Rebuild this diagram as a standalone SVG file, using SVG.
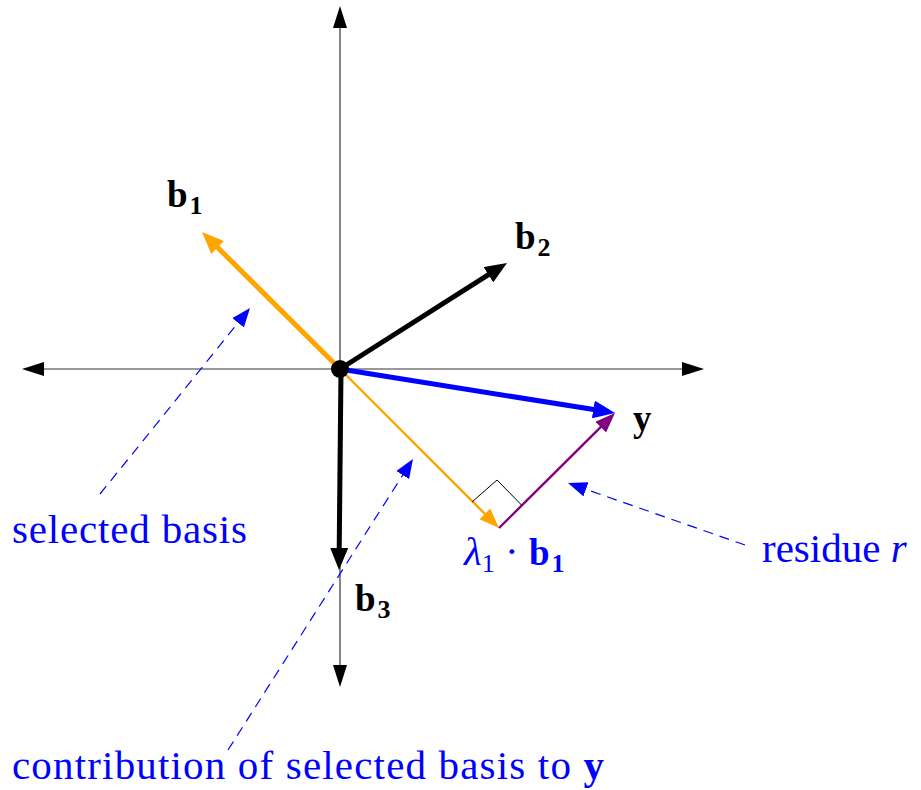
<svg xmlns="http://www.w3.org/2000/svg" width="921" height="790" viewBox="0 0 921 790">
  <style>
    .axis { stroke: #333; stroke-width: 1.2; fill: none; }
    .thick { stroke-width: 5; fill: none; }
    .thin { stroke-width: 2.4; fill: none; }
    .dash { stroke: #0000ff; stroke-width: 1.2; stroke-dasharray: 10 7; fill: none; }
    .lbl { font-family: "Liberation Serif", "DejaVu Serif", serif; font-weight: bold; font-size: 37px; fill: #000; }
    .sub { font-size: 26px; }
    .note { font-family: "Liberation Serif", "DejaVu Serif", serif; font-size: 41px; fill: #0000ff; }
  </style>
  <defs>
    <marker id="ax" markerUnits="userSpaceOnUse" markerWidth="22" markerHeight="14" viewBox="0 0 22 14" refX="1" refY="7" orient="auto-start-reverse">
      <path d="M0,0 L22,7 L0,14 z" fill="#000"/>
    </marker>
    <marker id="hk" markerUnits="userSpaceOnUse" markerWidth="22" markerHeight="18" viewBox="0 0 22 18" refX="2" refY="9" orient="auto">
      <path d="M0,0 L22,9 L0,18 z" fill="#000"/>
    </marker>
    <marker id="ho" markerUnits="userSpaceOnUse" markerWidth="22" markerHeight="18" viewBox="0 0 22 18" refX="2" refY="9" orient="auto">
      <path d="M0,0 L22,9 L0,18 z" fill="#ffa500"/>
    </marker>
    <marker id="hb" markerUnits="userSpaceOnUse" markerWidth="22" markerHeight="18" viewBox="0 0 22 18" refX="2" refY="9" orient="auto">
      <path d="M0,0 L22,9 L0,18 z" fill="#0000ff"/>
    </marker>
    <marker id="to" markerUnits="userSpaceOnUse" markerWidth="20" markerHeight="15" viewBox="0 0 20 15" refX="2" refY="7.5" orient="auto">
      <path d="M0,0 L20,7.5 L0,15 z" fill="#ffa500"/>
    </marker>
    <marker id="tp" markerUnits="userSpaceOnUse" markerWidth="20" markerHeight="15" viewBox="0 0 20 15" refX="2" refY="7.5" orient="auto">
      <path d="M0,0 L20,7.5 L0,15 z" fill="#800080"/>
    </marker>
    <marker id="db" markerUnits="userSpaceOnUse" markerWidth="19" markerHeight="15" viewBox="0 0 19 15" refX="1" refY="7.5" orient="auto">
      <path d="M0,0 L19,7.5 L0,15 z" fill="#0000ff"/>
    </marker>
  </defs>

  <g id="connectors">
    <line id="x-axis" class="axis" x1="43" y1="369" x2="683" y2="369" marker-start="url(#ax)" marker-end="url(#ax)"/>
    <line id="y-axis" class="axis" x1="340" y1="27" x2="340" y2="666" marker-start="url(#ax)" marker-end="url(#ax)"/>
    <line id="proj" class="thin" stroke="#ffa500" x1="340" y1="369" x2="486.3" y2="515.3" marker-end="url(#to)"/>
    <line id="residue" class="thin" stroke="#800080" x1="499" y1="528" x2="602.2" y2="425.7" marker-end="url(#tp)"/>
    <polyline id="right-angle" points="472,502 497,480 522,505.5" fill="none" stroke="#000" stroke-width="1"/>
    <line id="b1-vec" class="thick" stroke="#ffa500" x1="340" y1="369" x2="216.2" y2="246.1" marker-end="url(#ho)"/>
    <line id="b2-vec" class="thick" stroke="#000" x1="340" y1="369" x2="490.1" y2="273.7" marker-end="url(#hk)"/>
    <line id="y-vec" class="thick" stroke="#0000ff" x1="340" y1="369" x2="595.3" y2="409.8" marker-end="url(#hb)"/>
    <line id="b3-vec" class="thick" stroke="#000" x1="341" y1="369" x2="339.2" y2="550" marker-end="url(#hk)"/>
    <line id="d1" class="dash" x1="100" y1="494" x2="238.7" y2="322" marker-end="url(#db)"/>
    <line id="d2" class="dash" x1="228" y1="750" x2="403.3" y2="474.2" marker-end="url(#db)"/>
    <line id="d3" class="dash" x1="745" y1="545" x2="585" y2="489" marker-end="url(#db)"/>
  </g>

  <g id="origin"><circle cx="340" cy="369" r="9" fill="#000"/></g>

  <g id="label-b1"><text class="lbl" x="167" y="207">b<tspan class="sub" dx="2" dy="7">1</tspan></text></g>
  <g id="label-b2"><text class="lbl" x="515" y="249">b<tspan class="sub" dx="2" dy="7">2</tspan></text></g>
  <g id="label-b3"><text class="lbl" x="355" y="611">b<tspan class="sub" dx="2" dy="7">3</tspan></text></g>
  <g id="label-y"><text class="lbl" x="633" y="431" font-size="40px">y</text></g>
  <g id="label-proj"><text class="note" x="464" y="565" font-size="38px"><tspan font-style="italic">λ</tspan><tspan font-size="26px" dy="7">1</tspan><tspan dy="-7"> · </tspan><tspan font-weight="bold" font-size="37px">b</tspan><tspan font-weight="bold" font-size="26px" dx="2" dy="7">1</tspan></text></g>
  <g id="label-selected"><text class="note" x="12" y="543" textLength="235" lengthAdjust="spacing">selected basis</text></g>
  <g id="label-contrib"><text class="note" x="12" y="779" textLength="592" lengthAdjust="spacing">contribution of selected basis to <tspan font-weight="bold">y</tspan></text></g>
  <g id="label-residue"><text class="note" x="762" y="562">residue <tspan font-style="italic">r</tspan></text></g>
</svg>
